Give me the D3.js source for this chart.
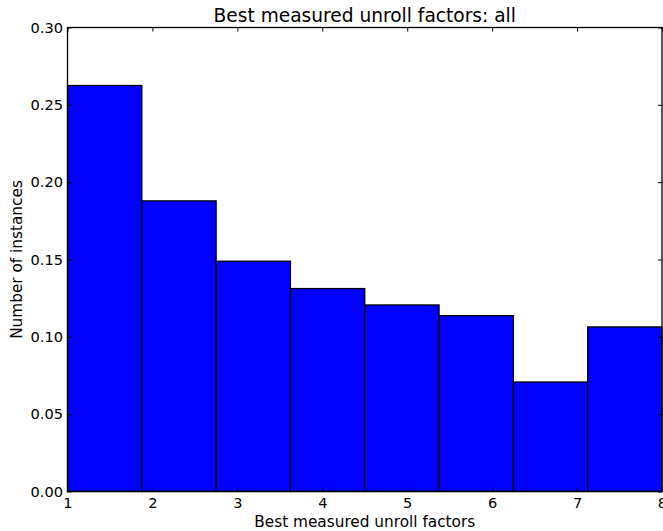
<!DOCTYPE html>
<html><head><meta charset="utf-8">
<script src="https://cdn.jsdelivr.net/npm/d3@7"></script>
<style>body{margin:0;background:#fff}svg{display:block}text{font-family:"DejaVu Sans",sans-serif;fill:#000}</style>
</head><body><svg id="c" width="663" height="531"></svg>
<script>
const binEdges = [1, 1.875, 2.75, 3.625, 4.5, 5.375, 6.25, 7.125, 8];
const values = [0.2625, 0.1879, 0.1489, 0.1312, 0.1206, 0.1137, 0.0708, 0.1064];
const xTicks = [1, 2, 3, 4, 5, 6, 7, 8];
const yTicks = [0, 0.05, 0.10, 0.15, 0.20, 0.25, 0.30];
const title = "Best measured unroll factors: all";
const xLabel = "Best measured unroll factors";
const yLabel = "Number of instances";

const svg = d3.select("#c");
const L = 67.5, R = 662, T = 27.5, B = 491.5;
const x = d3.scaleLinear().domain([1, 8]).range([L, R]);
const y = d3.scaleLinear().domain([0, 0.3]).range([B, T]);

const bars = values.map((v, i) => ({x0: binEdges[i], x1: binEdges[i + 1], v}));
svg.append("g").selectAll("rect").data(bars).join("rect")
  .attr("x", d => x(d.x0)).attr("width", d => x(d.x1) - x(d.x0))
  .attr("y", d => y(d.v)).attr("height", d => y(0) - y(d.v))
  .attr("fill", "#0000ff").attr("stroke", "#000").attr("stroke-width", 1.3);

const fmt = d3.format(".2f");
const gl = svg.append("g").attr("transform", `translate(${L},0)`)
  .call(d3.axisLeft(y).tickValues(yTicks).tickFormat(fmt).tickSizeInner(-4).tickSizeOuter(0).tickPadding(4));
const gr = svg.append("g").attr("transform", `translate(${R},0)`)
  .call(d3.axisRight(y).tickValues(yTicks).tickFormat("").tickSizeInner(-4).tickSizeOuter(0));
const gb = svg.append("g").attr("transform", `translate(0,${B})`)
  .call(d3.axisBottom(x).tickValues(xTicks).tickFormat(d3.format("d")).tickSizeInner(-4).tickSizeOuter(0).tickPadding(6));
const gt = svg.append("g").attr("transform", `translate(0,${T})`)
  .call(d3.axisTop(x).tickValues(xTicks).tickFormat("").tickSizeInner(-4).tickSizeOuter(0));
[gl, gr, gb, gt].forEach(g => {
  g.select(".domain").remove();
  g.selectAll("line").attr("stroke", "#000").attr("stroke-width", 1);
  g.selectAll("text").style("font-size", "14.6px").attr("fill", "#000");
});
gl.selectAll("text").attr("x", -4.5);
svg.append("rect").attr("x", L).attr("y", T).attr("width", R - L).attr("height", B - T)
  .attr("fill", "none").attr("stroke", "#000").attr("stroke-width", 1.3);

svg.append("text").attr("x", (L + R) / 2).attr("y", 21.5).attr("text-anchor", "middle")
  .style("font-size", "18.6px").text(title);
svg.append("text").attr("x", (L + R) / 2).attr("y", 526.5).attr("text-anchor", "middle")
  .style("font-size", "15.3px").text(xLabel);
svg.append("text").attr("transform", `translate(22,${(T + B) / 2}) rotate(-90)`).attr("text-anchor", "middle")
  .style("font-size", "15.3px").text(yLabel);
</script></body></html>
